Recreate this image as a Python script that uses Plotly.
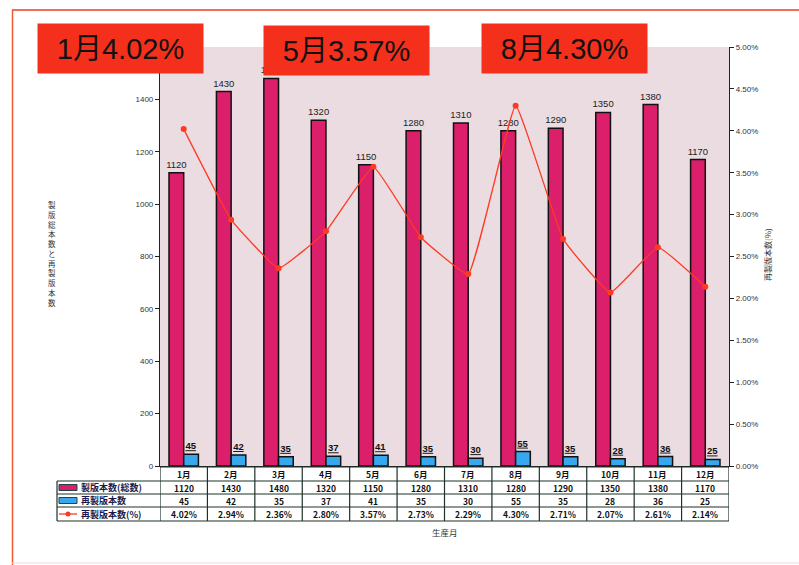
import plotly.graph_objects as go

# ---- data ----
months = ["1月", "2月", "3月", "4月", "5月", "6月", "7月", "8月", "9月", "10月", "11月", "12月"]
total_plates = [1120, 1430, 1480, 1320, 1150, 1280, 1310, 1280, 1290, 1350, 1380, 1170]
remade_plates = [45, 42, 35, 37, 41, 35, 30, 55, 35, 28, 36, 25]
remade_pct = [4.02, 2.94, 2.36, 2.80, 3.57, 2.73, 2.29, 4.30, 2.71, 2.07, 2.61, 2.14]
highlight_months = [0, 4, 7]  # indices called out in the banners
left_ticks = [0, 200, 400, 600, 800, 1000, 1200, 1400]

series_names = ["製版本数(総数)", "再製版本数", "再製版本数(%)"]
left_title = "製版総本数と再製版本数"
right_title = "再製版本数(%)"
x_title = "生産月"

# ---- layout geometry (pixels) ----
W, H = 799, 565
L, R, T, B = 160, 729, 47, 466
PW, PH = R - L, B - T

def px(x):
    return (x - L) / PW

def py(y):
    return (B - y) / PH

RED = "#DC1F6A"
BLUE = "#38A8EE"
LINE = "#FF3A22"
BANNER = "#F4301C"
GRID = "#1E3328"
JP = "Noto Sans CJK JP"
LAT = "Liberation Sans, Noto Sans CJK JP"

fig = go.Figure()
fig.add_bar(x=months, y=total_plates, name=series_names[0],
            marker=dict(color=RED, line=dict(color="#111", width=1.5)),
            text=[str(v) for v in total_plates], textposition="outside",
            constraintext="none",
            textfont=dict(size=9.5, color="#222", family="Liberation Sans"),
            cliponaxis=False)
fig.add_bar(x=months, y=remade_plates, name=series_names[1],
            marker=dict(color=BLUE, line=dict(color="#111", width=1.5)),
            text=[f"<b><u>{v}</u></b>" for v in remade_plates], textposition="outside",
            constraintext="none",
            textfont=dict(size=9.5, color="#111", family="Liberation Sans"),
            cliponaxis=False)
fig.add_scatter(x=months, y=[p / 100 for p in remade_pct], name=series_names[2],
                yaxis="y2", mode="lines+markers",
                line=dict(color=LINE, width=1.3, shape="spline", smoothing=0.3),
                marker=dict(color=LINE, size=6), cliponaxis=False)

shapes = []
annotations = []

def note(x, y, text, size, color="#111", family=JP, xanchor="center", **kw):
    annotations.append(dict(x=x, y=y, text=text, showarrow=False, xanchor=xanchor,
                            yanchor="middle", font=dict(size=size, color=color, family=family),
                            **kw))

# banners for the highlighted months
banner_boxes = [(37, 23), (263, 25), (481, 23)]
for idx, (bx, by) in zip(highlight_months, banner_boxes):
    annotations.append(dict(
        x=px(bx), y=py(by), xref="paper", yref="paper", xanchor="left", yanchor="top",
        text=f"{months[idx]}{remade_pct[idx]:.2f}%", showarrow=False,
        font=dict(size=29, color="#111", family=LAT),
        bgcolor=BANNER, width=161, height=45, borderpad=2, align="center"))

# data table under the plot
row_edges = [467, 481, 494, 507, 521]
tab_left = 57
for ry in row_edges:
    shapes.append(dict(type="line", xref="paper", yref="paper",
                       x0=px(tab_left if ry != row_edges[0] else L), x1=px(R),
                       y0=py(ry), y1=py(ry), line=dict(color=GRID, width=1.2)))
shapes.append(dict(type="line", xref="paper", yref="paper", x0=px(tab_left), x1=px(tab_left),
                   y0=py(row_edges[1]), y1=py(row_edges[-1]), line=dict(color=GRID, width=1.2)))
for k in range(len(months) + 1):
    shapes.append(dict(type="line", xref="x", yref="paper", x0=k - 0.5, x1=k - 0.5,
                       y0=py(row_edges[0]), y1=py(row_edges[-1]), line=dict(color=GRID, width=1.2)))

rows = [months,
        [str(v) for v in total_plates],
        [str(v) for v in remade_plates],
        [f"{p:.2f}%" for p in remade_pct]]
for r, vals in enumerate(rows):
    yc = py((row_edges[r] + row_edges[r + 1]) / 2)
    for i, v in enumerate(vals):
        note(i, yc, f"<b>{v}</b>", 8.5, xref="x", yref="paper")

# legend keys in the label column
for r, name in enumerate(series_names):
    y0p, y1p = row_edges[r + 1], row_edges[r + 2]
    yc = (y0p + y1p) / 2
    if r < 2:
        shapes.append(dict(type="rect", xref="paper", yref="paper",
                           x0=px(59), x1=px(77), y0=py(yc + 3), y1=py(yc - 3),
                           fillcolor=RED if r == 0 else BLUE, line=dict(color="#244", width=1)))
    else:
        shapes.append(dict(type="line", xref="paper", yref="paper",
                           x0=px(59), x1=px(77), y0=py(yc), y1=py(yc),
                           line=dict(color=LINE, width=1.3)))
        shapes.append(dict(type="circle", xref="paper", yref="paper",
                           x0=px(65.5), x1=px(70.5), y0=py(yc + 2.5), y1=py(yc - 2.5),
                           fillcolor=LINE, line=dict(width=0)))
    note(px(79), py(yc), f"<b>{name}</b>", 9, color="#1a1a4a", xanchor="left",
         xref="paper", yref="paper")

# axis titles
note(px(52), py(253), "<br>".join(left_title), 7.5, color="#333", xref="paper", yref="paper")
note(px(767), py(255), right_title, 8, color="#333", xref="paper", yref="paper", textangle=-90)
note(px(445), py(532), x_title, 8.5, color="#333", xref="paper", yref="paper")

# page frame
shapes.append(dict(type="line", xref="paper", yref="paper", x0=px(12), x1=px(805),
                   y0=py(10), y1=py(10), line=dict(color="#F03828", width=1.5), layer="below"))
shapes.append(dict(type="line", xref="paper", yref="paper", x0=px(12.5), x1=px(12.5),
                   y0=py(10), y1=py(566), line=dict(color="#F05A30", width=1.5), layer="below"))
shapes.append(dict(type="line", xref="paper", yref="paper", x0=px(12), x1=px(805),
                   y0=py(563), y1=py(563), line=dict(color="#F6D6E4", width=1.2), layer="below"))

fig.update_layout(
    width=W, height=H,
    margin=dict(l=L, r=W - R, t=T, b=H - B, autoexpand=False),
    paper_bgcolor="white", plot_bgcolor="#EADCE1",
    barmode="group", bargap=0.38, bargroupgap=0.0,
    showlegend=False,
    font=dict(family=JP),
    xaxis=dict(range=[-0.5, len(months) - 0.5], showticklabels=False, ticks="",
               showline=True, linecolor="#222",
               linewidth=1, showgrid=False, zeroline=False),
    yaxis=dict(range=[0, 1600], tickvals=left_ticks, showgrid=False, zeroline=False,
               showline=True, linecolor="#222", linewidth=1.2,
               ticks="outside", ticklen=4, tickcolor="#222",
               tickfont=dict(size=8, color="#333", family="Liberation Sans")),
    yaxis2=dict(range=[0, 0.05], dtick=0.005, tickformat=".2%", overlaying="y",
                side="right", showgrid=False, zeroline=False,
                showline=True, linecolor="#222", linewidth=1.2,
                ticks="outside", ticklen=4, tickcolor="#222",
                tickfont=dict(size=8, color="#333", family="Liberation Sans")),
    shapes=shapes, annotations=annotations,
)

fig.write_html("out.html")
